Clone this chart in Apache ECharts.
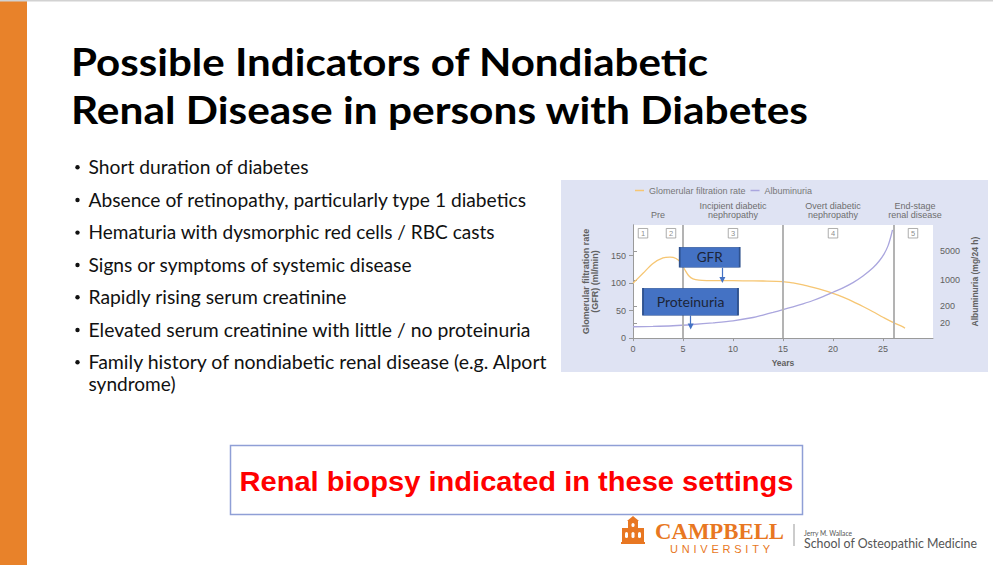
<!DOCTYPE html>
<html>
<head>
<meta charset="utf-8">
<script src="https://cdn.jsdelivr.net/npm/echarts@6/dist/echarts.min.js"></script>
<style>
html, body { margin: 0; padding: 0; }
body { width: 993px; height: 565px; overflow: hidden; position: relative; background: #fff; }
#slide { position: absolute; left: 0; top: 0; }
#chart { position: absolute; left: 561px; top: 180px; width: 427px; height: 192px; background: #dfe3f3; }
</style>
</head>
<body>
<svg id="slide" width="993" height="565" xmlns="http://www.w3.org/2000/svg">
  <rect x="0" y="0" width="27" height="565" fill="#e8822a"/>
  <rect x="0" y="0" width="993" height="1.5" fill="#d2d2d2"/>

  <g font-family="Lato" font-weight="700" font-size="38" fill="#000">
    <text x="71" y="76" textLength="637" lengthAdjust="spacingAndGlyphs">Possible Indicators of Nondiabetic</text>
    <text x="71" y="124" textLength="737" lengthAdjust="spacingAndGlyphs">Renal Disease in persons with Diabetes</text>
  </g>

  <g fill="#111">
    <circle cx="77.5" cy="167.3" r="2.2"/>
    <circle cx="77.5" cy="200" r="2.2"/>
    <circle cx="77.5" cy="232.6" r="2.2"/>
    <circle cx="77.5" cy="265" r="2.2"/>
    <circle cx="77.5" cy="297.3" r="2.2"/>
    <circle cx="77.5" cy="330" r="2.2"/>
    <circle cx="77.5" cy="362.3" r="2.2"/>
  </g>
  <g font-family="Lato" font-size="19.5" fill="#111">
    <text x="88.5" y="174" textLength="220" lengthAdjust="spacingAndGlyphs">Short duration of diabetes</text>
    <text x="88.5" y="206.7" textLength="437.5" lengthAdjust="spacingAndGlyphs">Absence of retinopathy, particularly type 1 diabetics</text>
    <text x="88.5" y="239.3" textLength="406" lengthAdjust="spacingAndGlyphs">Hematuria with dysmorphic red cells / RBC casts</text>
    <text x="88.5" y="271.7" textLength="323" lengthAdjust="spacingAndGlyphs">Signs or symptoms of systemic disease</text>
    <text x="88.5" y="304" textLength="258" lengthAdjust="spacingAndGlyphs">Rapidly rising serum creatinine</text>
    <text x="88.5" y="336.7" textLength="442" lengthAdjust="spacingAndGlyphs">Elevated serum creatinine with little / no proteinuria</text>
    <text x="88.5" y="369" textLength="458" lengthAdjust="spacingAndGlyphs">Family history of nondiabetic renal disease (e.g. Alport</text>
    <text x="88.5" y="391" textLength="87" lengthAdjust="spacingAndGlyphs">syndrome)</text>
  </g>

  <rect x="230.5" y="445.5" width="572" height="69" fill="#fff" stroke="#8f9fd6" stroke-width="1.5"/>
  <text x="516.5" y="491" text-anchor="middle" font-family="Liberation Sans" font-weight="700" font-size="28"
        fill="#ff0000" textLength="554" lengthAdjust="spacingAndGlyphs">Renal biopsy indicated in these settings</text>

  <!-- logo -->
  <g fill="#e87722">
    <rect x="622" y="528" width="22" height="15"/>
    <rect x="628" y="521" width="10" height="8"/>
    <polygon points="627,521 633,516 639,521"/>
    <rect x="621" y="542" width="24" height="2"/>
  </g>
  <g fill="#fff">
    <rect x="625" y="532" width="3" height="6" rx="1.5"/>
    <rect x="631.5" y="532" width="3" height="6" rx="1.5"/>
    <rect x="638" y="532" width="3" height="6" rx="1.5"/>
    <rect x="631.5" y="523" width="3" height="4" rx="1.5"/>
  </g>
  <text x="655" y="538.5" font-family="Liberation Serif" font-weight="700" font-size="23" fill="#e87722"
        textLength="129" lengthAdjust="spacingAndGlyphs">CAMPBELL</text>
  <text x="670" y="552.5" font-family="Liberation Sans" font-size="11" fill="#e87722"
        textLength="100" lengthAdjust="spacing">UNIVERSITY</text>
  <rect x="793.5" y="524" width="1" height="22" fill="#9a9a9a"/>
  <text x="804" y="536" font-family="Lato" font-size="7" fill="#555" textLength="48" lengthAdjust="spacingAndGlyphs">Jerry M. Wallace</text>
  <text x="804" y="547.5" font-family="Lato" font-size="12.5" fill="#555" textLength="173" lengthAdjust="spacingAndGlyphs">School of Osteopathic Medicine</text>
</svg>

<div id="chart"></div>

<script>
// x axis (years)
var xTicks = [0, 5, 10, 15, 20, 25];
// left axis, GFR ml/min
var gfrTicks = [0, 50, 100, 150];
// right axis is drawn non-linear in the source figure; albuminuria values below are
// read in the plot's vertical units and these two arrays place its labels
var albTickPos = [27.7, 57.8, 106, 158];
var albTickLabels = ['20', '200', '1000', '5000'];

var stageLines = [5, 15, 26.06];
var stageCenters = [2.5, 10, 20, 28.2];
var stageNames = ['Pre', 'Incipient diabetic\nnephropathy', 'Overt diabetic\nnephropathy', 'End-stage\nrenal disease'];
var stageNumX = [1, 3.8, 10, 20, 28];
var stageNums = ['1', '2', '3', '4', '5'];

var gfrYears  = [0, 1, 2, 3, 3.7, 4.3, 4.8, 5.2, 5.6, 6, 6.6, 7.5, 9, 11, 13, 15, 16, 17, 18, 19, 20, 21, 22, 23, 24, 25, 26, 27, 27.2];
var gfrValues = [100, 118, 136, 146, 147.5, 145, 137, 124, 113, 108, 105.5, 104.8, 104.6, 104.4, 104, 103, 100.5, 97, 92.5, 87.5, 81.5, 74.5, 66.5, 57.5, 48, 38, 28.5, 20.5, 18];

var albYears  = [0, 2, 4, 6, 8, 10, 12, 13, 14, 15, 16, 17, 18, 19, 20, 21, 22, 23, 24, 24.6, 25.1, 25.5, 25.8, 25.95];
var albValues = [20.7, 21.3, 22.5, 24.8, 27.8, 31.5, 37.5, 42, 46.8, 51.8, 57, 62.5, 68.5, 75.5, 83.5, 91.5, 101, 113, 128, 140, 153, 168, 186, 197];

var zip = function(xs, ys) {
    var out = [];
    for (var i = 0; i < xs.length; i++) out.push([xs[i], ys[i]]);
    return out;
};

var font = 'Liberation Sans';
var grey = '#616161';
var axisGrey = '#9a9a9a';
var STAGE_BOX_Y = 191;

var chart = echarts.init(document.getElementById('chart'), null, { renderer: 'svg' });

var option = {
    animation: false,
    textStyle: { fontFamily: font },
    legend: {
        data: ['Glomerular filtration rate', 'Albuminuria'],
        top: 6,
        left: 74,
        icon: 'rect',
        itemWidth: 9,
        itemHeight: 1.5,
        itemGap: 5,
        padding: 0,
        textStyle: { fontSize: 9, color: '#777', fontFamily: font }
    },
    grid: {
        left: 72, right: 55, top: 45, bottom: 30,
        show: true, backgroundColor: '#fff', borderWidth: 0
    },
    xAxis: [{
        type: 'value', min: 0, max: 30,
        axisLine: { lineStyle: { color: axisGrey } },
        axisTick: { length: 3, customValues: xTicks, lineStyle: { color: axisGrey } },
        axisLabel: { customValues: xTicks, fontSize: 9, color: grey, margin: 6 },
        splitLine: { show: false },
        name: 'Years', nameLocation: 'middle', nameGap: 18,
        nameTextStyle: { fontSize: 8.5, fontWeight: 'bold', color: grey }
    }, {
        type: 'value', min: 0, max: 30, position: 'top',
        axisLine: { show: false },
        axisTick: { show: false },
        splitLine: { show: false },
        axisLabel: {
            customValues: stageCenters, fontSize: 9, color: '#6e6e6e', lineHeight: 9.5, margin: 5,
            formatter: function(v) { return stageNames[stageCenters.indexOf(v)]; }
        }
    }],
    yAxis: [{
        type: 'value', min: 0, max: 206,
        axisLine: { show: true, lineStyle: { color: axisGrey } },
        axisTick: { show: true, length: 4, customValues: gfrTicks, lineStyle: { color: axisGrey } },
        axisLabel: { customValues: gfrTicks, fontSize: 9, color: grey, margin: 7 },
        splitLine: { show: false },
        name: 'Glomerular filtration rate\n(GFR) (ml/min)',
        nameLocation: 'middle', nameGap: 28,
        nameTextStyle: { fontSize: 9, fontWeight: 'bold', color: grey, lineHeight: 9.5 }
    }, {
        type: 'value', min: 0, max: 206, position: 'right',
        axisLine: { show: true, lineStyle: { color: axisGrey } },
        axisTick: { show: true, length: 4, customValues: albTickPos, lineStyle: { color: axisGrey } },
        axisLabel: {
            customValues: albTickPos, fontSize: 9, color: grey, margin: 7,
            formatter: function(v) { return albTickLabels[albTickPos.indexOf(v)]; }
        },
        splitLine: { show: false },
        name: 'Albuminuria (mg/24 h)',
        nameLocation: 'middle', nameGap: 33, nameRotate: 90,
        nameTextStyle: { fontSize: 8.5, fontWeight: 'bold', color: grey }
    }],
    series: [{
        name: 'Glomerular filtration rate',
        type: 'line',
        data: zip(gfrYears, gfrValues),
        smooth: 0.3,
        showSymbol: false,
        color: '#f6c673',
        lineStyle: { width: 1.3 },
        z: 3,
        markLine: {
            silent: true, symbol: 'none',
            label: { show: false },
            lineStyle: { color: '#b3b3b3', width: 2, type: 'solid' },
            data: stageLines.map(function(x) { return { xAxis: x }; })
        }
    }, {
        name: 'Albuminuria',
        type: 'line',
        yAxisIndex: 1,
        data: zip(albYears, albValues),
        smooth: 0.3,
        showSymbol: false,
        color: '#aaa6de',
        lineStyle: { width: 1.3 },
        z: 3
    }, {
        name: 'stages',
        type: 'scatter',
        data: stageNumX.map(function(x) { return [x, STAGE_BOX_Y]; }),
        symbol: 'rect',
        symbolSize: 9.5,
        itemStyle: { color: '#fff', borderColor: '#9a9a9a', borderWidth: 1 },
        label: {
            show: true, position: 'inside', fontSize: 7.5, color: '#6e6e6e',
            formatter: function(p) { return stageNums[p.dataIndex]; }
        },
        silent: true,
        z: 4
    }, {
        name: 'notes',
        type: 'scatter',
        data: [],
        z: 10,
        markPoint: {
            silent: true,
            symbol: 'rect',
            itemStyle: { color: '#4472c4', borderColor: '#2f528f', borderWidth: 1 },
            label: { show: true, color: '#1c2538', fontFamily: 'Lato' },
            data: [
                { coord: [7.67, 147.3], symbolSize: [60, 20], label: { formatter: 'GFR', fontSize: 13.5 } },
                { coord: [5.75, 66.3], symbolSize: [95, 27], label: { formatter: 'Proteinuria', fontSize: 14 } }
            ]
        },
        markLine: {
            silent: true,
            symbol: ['none', 'triangle'],
            symbolSize: 6,
            label: { show: false },
            lineStyle: { color: '#4472c4', width: 1.2, type: 'solid' },
            data: [
                [{ coord: [8.94, 128] }, { coord: [8.94, 106] }],
                [{ coord: [5.77, 41] }, { coord: [5.77, 21] }]
            ]
        }
    }]
};

chart.setOption(option);
</script>
</body>
</html>
